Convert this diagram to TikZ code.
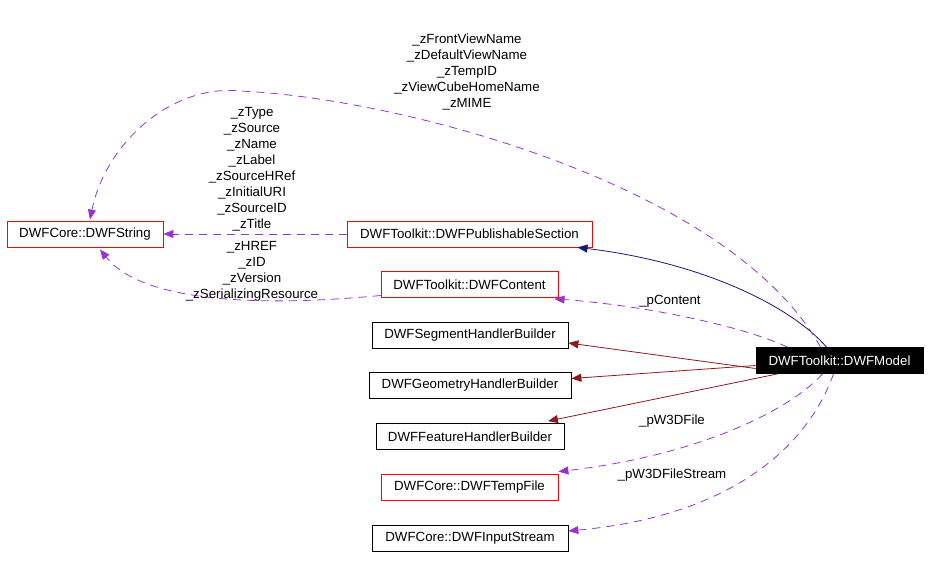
\documentclass[tikz,border=0pt]{standalone}
\usepackage{fontspec}
\setmainfont{Liberation Sans}
\usepackage{xcolor}
\usepackage{tikz}
\usetikzlibrary{arrows.meta,positioning,calc}

\definecolor{edgenavy}{HTML}{191970}
\definecolor{edgered}{HTML}{8B1A1A}
\definecolor{edgeviolet}{HTML}{9A32CD}

\begin{document}
\begin{tikzpicture}[
  x=1pt, y=-1pt,
  cls/.style={rectangle, draw=black, fill=white, line width=0.8pt,
              font=\fontsize{13.3}{16}\selectfont, minimum height=26pt,
              inner xsep=4pt, align=center},
  doc/.style={cls, draw=red},
  cur/.style={cls, fill=black, text=white},
  lbl/.style={font=\fontsize{13.3}{16}\selectfont, align=center, inner sep=0pt},
  inh/.style={draw=edgenavy, line width=0.8pt, -{Triangle[length=10pt,width=8pt]}},
  use/.style={draw=edgered, line width=0.8pt, -{Triangle[length=10pt,width=8pt]}},
  mbr/.style={draw=edgeviolet, line width=0.8pt, dash pattern=on 8pt off 6pt,
              -{Triangle[length=10pt,width=8pt]}},
]
\useasboundingbox (0,0) rectangle (928,567);

% Classes
\node[doc, minimum width=156pt] (str) at (85,234) {DWFCore::DWFString};
\node[doc, minimum width=245pt] (pub) at (469.5,234) {DWFToolkit::DWFPublishableSection};
\node[doc, minimum width=177pt] (cont) at (469.5,284.5) {DWFToolkit::DWFContent};
\node[cls, minimum width=196pt] (seg) at (470,335) {DWFSegmentHandlerBuilder};
\node[cls, minimum width=202pt] (geo) at (470,385.5) {DWFGeometryHandlerBuilder};
\node[cls, minimum width=188pt] (feat) at (470,436.5) {DWFFeatureHandlerBuilder};
\node[doc, minimum width=177pt] (temp) at (469.5,487) {DWFCore::DWFTempFile};
\node[cls, minimum width=196pt] (input) at (470,538) {DWFCore::DWFInputStream};
\node[cur, minimum width=167pt] (model) at (839.5,360.5) {DWFToolkit::DWFModel};

% Relations
\draw[inh] ([xshift=-13pt]model.north) .. controls (790,305) and (700,262) .. ([xshift=108pt]pub.south);
\draw[mbr] ([xshift=-52pt]model.north) .. controls (740,325) and (640,305) .. ([xshift=85pt,yshift=-1pt]cont.south);
\draw[use] ([yshift=-8pt]model.west) -- ([yshift=-8pt]seg.east);
\draw[use] ([yshift=-5pt]model.west) -- ([yshift=7pt]geo.east);
\draw[use] ([xshift=22pt]model.south west) -- ([xshift=78pt,yshift=2pt]feat.north);
\draw[mbr] ([xshift=-17pt]model.south) .. controls (790,410) and (700,455) .. ([yshift=2pt]temp.north east);
\draw[mbr] ([xshift=-6pt]model.south) .. controls (810,440) and (740,515) .. ([yshift=7pt]input.east);
\draw[mbr] (pub.west) -- (str.east);
\draw[mbr] ([yshift=-11pt]cont.west) .. controls (250,308) and (140,300) .. ([xshift=15pt,yshift=-2pt]str.south);
\draw[mbr] ([xshift=-19pt]model.north) .. controls (730,185) and (400,98) .. (240,91)
  .. controls (170,84) and (105,145) .. ([xshift=5pt,yshift=1pt]str.north);

% Member labels
\node[lbl] (lmodel) at (467,72) {\_zFrontViewName\\\_zDefaultViewName\\\_zTempID\\\_zViewCubeHomeName\\\_zMIME};
\node[lbl] (lpub) at (252,169.5) {\_zType\\\_zSource\\\_zName\\\_zLabel\\\_zSourceHRef\\\_zInitialURI\\\_zSourceID\\\_zTitle};
\node[lbl] (lcont) at (252,271) {\_zHREF\\\_zID\\\_zVersion\\\_zSerializingResource};
\node[lbl] (lpc) at (670,301) {\_pContent};
\node[lbl] (lw3d) at (672,421) {\_pW3DFile};
\node[lbl] (lw3ds) at (672,475) {\_pW3DFileStream};
\end{tikzpicture}
\end{document}
